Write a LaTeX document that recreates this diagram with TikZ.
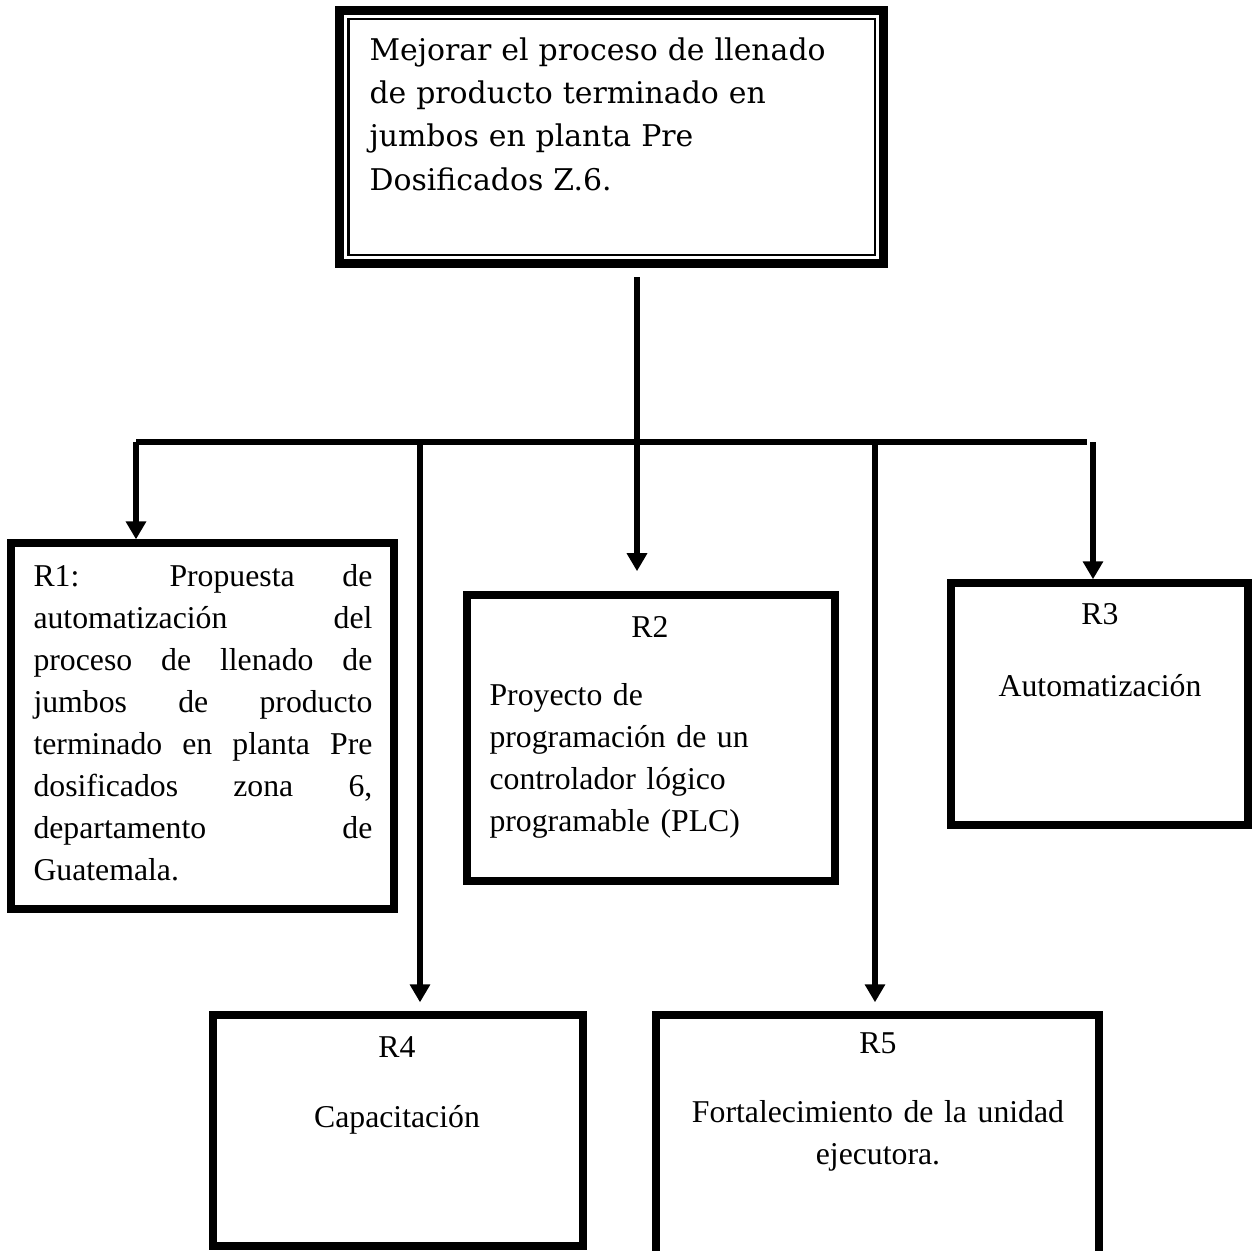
\documentclass[tikz,border=0pt]{standalone}
\usepackage{fontspec}
\setmainfont{Liberation Serif}
\newfontfamily\schoolfont{DejaVu Serif}
\usetikzlibrary{arrows.meta}
\tolerance=10000
\hbadness=10000
\begin{document}
\begin{tikzpicture}[x=0.378pt,y=-0.378pt,
  box/.style={draw,line width=2.8pt,inner sep=0pt},
  link/.style={line width=2.4pt},
  arr/.style={line width=2.4pt,-{Triangle[length=6.8pt,width=7.4pt]}},
  txt/.style={inner sep=0pt,font=\fontsize{12}{15.9}\selectfont}]
\clip (0,0) rectangle (1254,1251);
\node[box,line width=3.4pt,minimum width=205.3pt,minimum height=95.8pt] (goal) at (611.5,137) {};
\draw[line width=0.8pt] ([shift={(13,13)}]goal.north west) rectangle ([shift={(-13,-13)}]goal.south east);
\node[txt,font=\schoolfont\fontsize{11.3}{16.4}\selectfont,text width=190pt,align=left,anchor=base west] (goaltxt) at (369,60)
  {Mejorar el proceso de llenado\\de producto terminado en\\jumbos en planta Pre\\Dosificados Z.6.};
\node[box,minimum width=144.8pt,minimum height=138.3pt] (r1) at (202.5,726) {};
\node[box,minimum width=139.1pt,minimum height=108.1pt] (r2) at (651,738) {};
\node[box,minimum width=112.3pt,minimum height=91.5pt] (r3) at (1099.5,704) {};
\node[box,minimum width=139.9pt,minimum height=87.3pt] (r4) at (398,1130.5) {};
\node[box,minimum width=167.5pt,minimum height=100.2pt] (r5) at (877.5,1147.5) {};
\node[txt,text width=128.1pt,align=justify,anchor=base west] (r1txt) at (33,586)
  {R1: Propuesta de\linebreak automatización del\linebreak proceso de llenado de\linebreak jumbos de producto\linebreak terminado en planta Pre\linebreak dosificados zona 6,\linebreak departamento de\linebreak Guatemala.};
\node[txt,anchor=base] (r2id) at (650,637) {R2};
\node[txt,text width=130pt,align=left,anchor=base west] (r2txt) at (489,705)
  {Proyecto de\\programación de un\\controlador lógico\\programable (PLC)};
\node[txt,anchor=base] (r3id) at (1100,624) {R3};
\node[txt,anchor=base] (r3txt) at (1100,696) {Automatización};
\node[txt,anchor=base] (r4id) at (397,1057) {R4};
\node[txt,anchor=base] (r4txt) at (397,1127) {Capacitación};
\node[txt,anchor=base] (r5id) at (878,1053) {R5};
\node[txt,text width=160pt,align=center,anchor=base] (r5txt) at (878,1122)
  {Fortalecimiento de la unidad\\ejecutora.};
\coordinate (stemtop) at (637,277);
\coordinate (b1) at (136,442);
\coordinate (b4) at (420,442);
\coordinate (b2) at (637,442);
\coordinate (b5) at (875,442);
\coordinate (b3) at (1093,442);
\coordinate (busend) at (1087,442);
\draw[link] (stemtop) -- (b2);
\draw[link] (b1) -- (busend);
\draw[arr] (b1) -- (b1 |- r1.north);
\draw[arr,shorten >=7.6pt] (b2) -- (b2 |- r2.north);
\draw[arr] (b3) -- (b3 |- r3.north);
\draw[arr,shorten >=3.4pt] (b4) -- (b4 |- r4.north);
\draw[arr,shorten >=3.4pt] (b5) -- (b5 |- r5.north);
\end{tikzpicture}
\end{document}
